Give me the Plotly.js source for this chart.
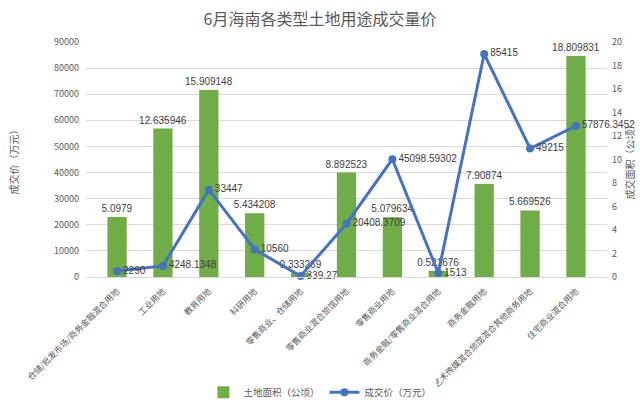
<!DOCTYPE html>
<html><head><meta charset="utf-8">
<script src="https://cdn.plot.ly/plotly-3.0.1.min.js"></script>
<style>html,body{margin:0;padding:0;background:#fff}#chart{width:640px;height:409px}</style>
</head><body><div id="chart"></div>
<script>
const categories = ["仓储/批发市场/商务金融混合用地","工业用地","教育用地","科研用地","零售商业、仓储用地","零售商业混合旅馆用地","零售商业用地","商务金融/零售商业混合用地","商务金融用地","艺术传媒混合旅馆混合其他商务用地","住宅商业混合用地"];
const landArea = [5.0979, 12.635946, 15.909148, 5.434208, 0.333269, 8.892523, 5.079634, 0.521676, 7.90874, 5.669526, 18.809831];
const areaLabels = ["5.0979","12.635946","15.909148","5.434208","0.333269","8.892523","5.079634","0.521676","7.90874","5.669526","18.809831"];
const price = [2290, 4248.1348, 33447, 10560, 339.27, 20408.3709, 45098.59302, 1513, 85415, 49215, 57876.3452];
const priceLabels = ["2290","4248.1348","33447","10560","339.27","20408.3709","45098.59302","1513","85415","49215","57876.3452"];

const font = "Noto Sans CJK SC, sans-serif";
const numFont = "Liberation Sans Narrow, Liberation Sans, sans-serif";
const traces = [
  {type:'bar', name:'土地面积（公顷）', x:categories, y:landArea, yaxis:'y',
   marker:{color:'#70AD47'}, width:0.42, text:areaLabels, textposition:'outside', constraintext:'none',
   textfont:{size:10, color:'#404040', family:numFont}, cliponaxis:false, hoverinfo:'none'},
  {type:'scatter', mode:'lines+markers+text', name:'成交价（万元）', x:categories, y:price, yaxis:'y2',
   line:{color:'#4472C4', width:3}, marker:{color:'#4472C4', size:8},
   text:priceLabels, textposition:'middle right', textfont:{size:10, color:'#404040', family:numFont},
   cliponaxis:false, hoverinfo:'none'}
];
const layout = {
  width:640, height:409,
  margin:{l:86, r:33, t:42, b:132, autoexpand:false},
  paper_bgcolor:'#fff', plot_bgcolor:'#fff',
  font:{family:font, color:'#595959', size:10},
  title:{text:'6月海南各类型土地用途成交量价', x:0.5, xanchor:'center', y:0.952, yanchor:'middle',
         font:{size:16, color:'#595959', family:font}},
  showlegend:true,
  legend:{orientation:'h', x:0.449, xanchor:'center', y:-0.49, yanchor:'middle',
          font:{size:9.5, color:'#595959', family:font}, traceorder:'normal'},
  xaxis:{tickangle:-45, tickfont:{size:8.5, color:'#595959', family:font}, showline:true,
         linecolor:'#D9D9D9', ticks:'', showgrid:false, automargin:false, ticklabelstandoff:5},
  yaxis:{range:[0,20], dtick:2, side:'right', showgrid:false, zeroline:false,
         tickfont:{size:9, color:'#595959'}, ticks:'', ticklabelstandoff:4,
         title:{text:'成交面积（公顷）', font:{size:10, color:'#595959'}, standoff:1}, automargin:false},
  yaxis2:{range:[0,90000], dtick:10000, overlaying:'y', side:'left', showgrid:true, gridcolor:'#D9D9D9', zeroline:false,
          tickfont:{size:9, color:'#595959'}, ticks:'', tickformat:'d', ticklabelstandoff:6,
          title:{text:'成交价（万元）', font:{size:10, color:'#595959'}, standoff:33}, automargin:false}
};
Plotly.newPlot('chart', traces, layout, {displayModeBar:false, staticPlot:true});
</script></body></html>
